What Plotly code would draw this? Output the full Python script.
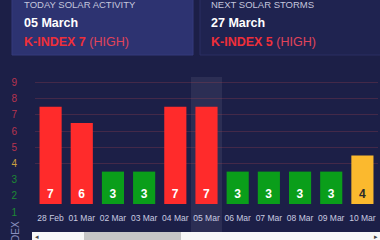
import plotly.graph_objects as go

dates = ["28 Feb", "01 Mar", "02 Mar", "03 Mar", "04 Mar", "05 Mar",
         "06 Mar", "07 Mar", "08 Mar", "09 Mar", "10 Mar"]
kindex = [7, 6, 3, 3, 7, 7, 3, 3, 3, 3, 4]
levels = [1, 2, 3, 4, 5, 6, 7, 8, 9]
grid_levels = [4, 5, 6, 7, 8, 9]
today = "05 Mar"

RED = "#ff2b2b"
GREEN = "#0a9e1a"
YELLOW = "#fbb92e"
BG = "#1c1f47"


def bar_color(v):
    if v >= 5:
        return RED
    if v == 4:
        return YELLOW
    return GREEN


def level_color(v):
    if v >= 5:
        return "#b8344f"
    if v == 4:
        return "#c9a040"
    return "#1d8a34"


colors = [bar_color(v) for v in kindex]
text_colors = ["#2a2a2a" if v == 4 else "#ffffff" for v in kindex]

W, H = 380, 240
T, B, L, R = 75, 8, 35, 2
plot_h = H - T - B            # 157
pw = W - L - R
px_unit = 16.2
bar_base_px = 204             # pixel of value 1 on bar axis
label1_px = 212               # pixel of "1" tick label

bar_dom0 = (H - B - bar_base_px) / plot_h
bar_range = [1, 1 + (bar_base_px - T) / px_unit]
lab_lo = 1 - (H - B - label1_px) / px_unit
lab_range = [lab_lo, lab_lo + plot_h / px_unit]

fig = go.Figure()

# grid axis (drawn first, under everything)
fig.add_trace(go.Scatter(x=[dates[0]], y=[None], xaxis="x", yaxis="y",
                         mode="markers", hoverinfo="skip"))
# label axis
fig.add_trace(go.Scatter(x=[dates[0]], y=[None], xaxis="x", yaxis="y2",
                         mode="markers", hoverinfo="skip"))
# bars
fig.add_trace(go.Bar(
    x=dates, y=[v - 1 for v in kindex], base=1,
    marker=dict(color=colors, line=dict(width=0)),
    text=[f"<b>{v}</b>" for v in kindex],
    textposition="inside", insidetextanchor="start",
    textfont=dict(family="Liberation Sans, Arial", size=12, color=text_colors),
    textangle=0, cliponaxis=False,
    width=0.71, xaxis="x", yaxis="y3", hoverinfo="skip",
))

# highlight column for today
fig.add_shape(type="rect", xref="x", yref="paper",
              x0=dates.index(today) - 0.5, x1=dates.index(today) + 0.5,
              y0=0.0, y1=(H - B - 77) / plot_h, fillcolor="rgba(255,255,255,0.07)",
              line=dict(width=0), layer="below")

ticktext = [f"<span style='color:{level_color(v)}'>{v}</span>" for v in levels]

fig.update_layout(
    width=W, height=H,
    margin=dict(l=L, r=R, t=T, b=B, pad=0),
    paper_bgcolor=BG, plot_bgcolor="rgba(0,0,0,0)",
    showlegend=False,
    bargap=0.29,
    xaxis=dict(
        domain=[0, 1], anchor="y3", type="category",
        range=[-0.5, len(dates) - 0.5],
        showgrid=False, zeroline=False, showline=False,
        ticks="outside", ticklen=6, tickcolor="rgba(0,0,0,0)",
        tickfont=dict(family="Liberation Sans, Arial", size=8.5, color="#c9cbe0"),
    ),
    yaxis=dict(
        domain=[0, 1], range=lab_range, anchor="free", position=0, side="left",
        tickvals=grid_levels, showticklabels=False,
        showgrid=True, gridcolor="rgba(170,70,80,0.28)", gridwidth=1,
        zeroline=False, showline=False,
    ),
    yaxis2=dict(
        domain=[0, 1], range=lab_range, anchor="free", position=0, side="left",
        tickvals=levels, ticktext=ticktext,
        showgrid=False, zeroline=False, showline=False,
        ticks="outside", ticklen=16, tickcolor="rgba(0,0,0,0)",
        tickfont=dict(family="Liberation Sans, Arial", size=10),
    ),
    yaxis3=dict(
        domain=[bar_dom0, 1], range=bar_range, anchor="x",
        showgrid=False, zeroline=False, showticklabels=False, showline=False,
    ),
)


def px_x(x):
    return (x - L) / pw


def px_y(y):
    return (H - B - y) / plot_h


# y axis title (partly cut off, as in the reference)
fig.add_annotation(xref="paper", yref="paper", x=px_x(15), y=px_y(242),
                   xanchor="center", yanchor="middle",
                   text="K-INDEX", textangle=-90, showarrow=False,
                   font=dict(family="Liberation Sans, Arial", size=10, color="#8a90bf"))

# cards
fig.add_shape(type="rect", xref="paper", yref="paper",
              x0=px_x(12), x1=px_x(193), y0=px_y(55), y1=px_y(-10),
              fillcolor="#2d3371", line=dict(color="#353b7c", width=1),
              layer="below")
fig.add_shape(type="rect", xref="paper", yref="paper",
              x0=px_x(200), x1=px_x(390), y0=px_y(55), y1=px_y(-10),
              fillcolor="#1f2350", line=dict(color="#2a2f62", width=1),
              layer="below")

cards = [
    (22, "TODAY SOLAR ACTIVITY", "05 March", "K-INDEX 7", "(HIGH)"),
    (209, "NEXT SOLAR STORMS", "27 March", "K-INDEX 5", "(HIGH)"),
]
for x, title, date, kline, level in cards:
    fig.add_annotation(xref="paper", yref="paper", x=px_x(x), y=px_y(4),
                       xanchor="left", yanchor="middle", showarrow=False,
                       text=title,
                       font=dict(family="Liberation Sans, Arial", size=9.5, color="#c4c6dc"))
    fig.add_annotation(xref="paper", yref="paper", x=px_x(x), y=px_y(23),
                       xanchor="left", yanchor="middle", showarrow=False,
                       text=f"<b>{date}</b>",
                       font=dict(family="Liberation Sans, Arial", size=12.5, color="#ffffff"))
    fig.add_annotation(xref="paper", yref="paper", x=px_x(x), y=px_y(42),
                       xanchor="left", yanchor="middle", showarrow=False,
                       text=f"<b>{kline}</b> <span style='color:#e0445a'>{level}</span>",
                       font=dict(family="Liberation Sans, Arial", size=12.5, color="#ef2f3a"))

# scrollbar
fig.add_shape(type="rect", xref="paper", yref="paper",
              x0=px_x(32), x1=px_x(380), y0=px_y(240), y1=px_y(232),
              fillcolor="#f7f7f7", line=dict(width=0))
fig.add_shape(type="rect", xref="paper", yref="paper",
              x0=px_x(84), x1=px_x(181), y0=px_y(240), y1=px_y(232),
              fillcolor="#c6c6c6", line=dict(width=0))
fig.add_annotation(xref="paper", yref="paper", x=px_x(37), y=px_y(236),
                   text="◂", showarrow=False, xanchor="center", yanchor="middle",
                   font=dict(size=7, color="#444444"))
fig.add_annotation(xref="paper", yref="paper", x=px_x(376), y=px_y(236),
                   text="▸", showarrow=False, xanchor="center", yanchor="middle",
                   font=dict(size=7, color="#444444"))

fig.write_html("out.html", config={"displayModeBar": False})
